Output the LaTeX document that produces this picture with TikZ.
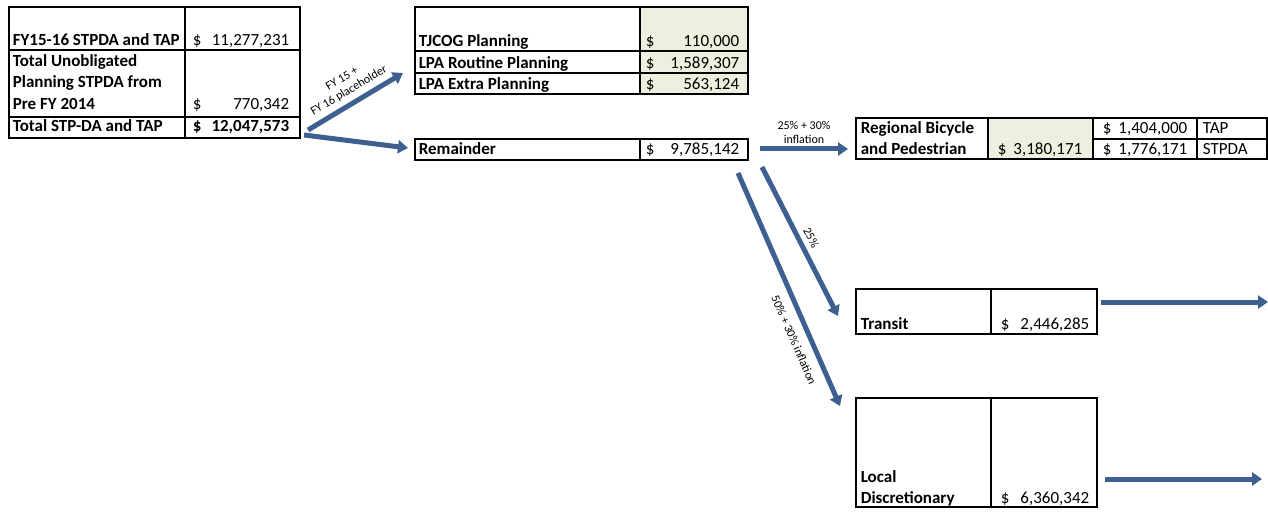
\documentclass[tikz,border=0pt]{standalone}
\usepackage{fontspec}
\setmainfont{Carlito}
\usetikzlibrary{arrows.meta}
\definecolor{flowblue}{RGB}{61,96,145}
\definecolor{cellgreen}{RGB}{235,241,222}

\begin{document}
\begin{tikzpicture}[x=1pt,y=-1pt,>={Triangle[width=13pt,length=10pt]},line width=1.6pt]
    \tikzstyle{lbl}=[anchor=base west, inner sep=0pt, font=\bfseries\fontsize{17}{21.5}\selectfont]
    \tikzstyle{dol}=[anchor=base west, inner sep=0pt, font=\fontsize{17}{21.5}\selectfont]
    \tikzstyle{amt}=[anchor=base east, inner sep=0pt, font=\fontsize{17}{21.5}\selectfont]
    \tikzstyle{flow}=[->, draw=flowblue, line width=5pt]
    \tikzstyle{note}=[font=\fontsize{12}{13.5}\selectfont, align=center, inner sep=5pt]

    \useasboundingbox (0,0) rectangle (1268,513);

    % shaded cells
    \fill[cellgreen] (640,7) rectangle (748,94);
    \fill[cellgreen] (988,118) rectangle (1093,159);

    % sources
    \draw (9,7) rectangle (300,138);
    \draw (185,7) -- (185,138);
    \draw (9,50) -- (300,50);
    \draw (9,117) -- (300,117);
    \node[lbl] (fy) at (12,46) {FY15-16 STPDA and TAP};
    \node[dol] (fyd) at (192,46) {\$};
    \node[amt] (fyv) at (290,46) {11,277,231};
    \node[lbl] (un1) at (12,67) {Total Unobligated};
    \node[lbl] (un2) at (12,88) {Planning STPDA from};
    \node[lbl] (un3) at (12,110) {Pre FY 2014};
    \node[dol] (und) at (192,110) {\$};
    \node[amt] (unv) at (290,110) {770,342};
    \node[lbl] (tot) at (12,132) {Total STP-DA and TAP};
    \node[lbl] (totd) at (192,132) {\$};
    \node[amt, font=\bfseries\fontsize{17}{21.5}\selectfont] (totv) at (290,132) {12,047,573};

    % planning
    \draw (415,7) rectangle (748,94);
    \draw (640,7) -- (640,94);
    \draw (415,51) -- (748,51);
    \draw (415,73) -- (748,73);
    \node[lbl] (tj) at (418,47) {TJCOG Planning};
    \node[dol] (tjd) at (645,47) {\$};
    \node[amt] (tjv) at (740,47) {110,000};
    \node[lbl] (lr) at (418,69) {LPA Routine Planning};
    \node[dol] (lrd) at (645,69) {\$};
    \node[amt] (lrv) at (740,69) {1,589,307};
    \node[lbl] (le) at (418,90) {LPA Extra Planning};
    \node[dol] (led) at (645,90) {\$};
    \node[amt] (lev) at (740,90) {563,124};

    % remainder
    \draw (415,139) rectangle (748,160);
    \draw (640,139) -- (640,160);
    \node[lbl] (rem) at (418,155) {Remainder};
    \node[dol] (remd) at (645,155) {\$};
    \node[amt] (remv) at (740,155) {9,785,142};

    % bike and ped
    \draw (856,118) rectangle (1267,159);
    \draw (988,118) -- (988,159);
    \draw (1093,118) -- (1093,159);
    \draw (1197,118) -- (1197,159);
    \draw (1093,139) -- (1267,139);
    \node[lbl] (bp1) at (860,134) {Regional Bicycle};
    \node[lbl] (bp2) at (860,155) {and Pedestrian};
    \node[dol] (bpd) at (997,155) {\$};
    \node[amt] (bpv) at (1083,155) {3,180,171};
    \node[dol] (tapd) at (1102,134) {\$};
    \node[amt] (tapv) at (1188,134) {1,404,000};
    \node[dol] (tap) at (1202,134) {TAP};
    \node[dol] (stpd) at (1102,155) {\$};
    \node[amt] (stpv) at (1188,155) {1,776,171};
    \node[dol] (stp) at (1202,155) {STPDA};

    % transit
    \draw (856,289) rectangle (1097,334);
    \draw (991,289) -- (991,334);
    \node[lbl] (tr) at (860,329) {Transit};
    \node[dol] (trd) at (1000,329) {\$};
    \node[amt] (trv) at (1090,329) {2,446,285};

    % local
    \draw (856,398) rectangle (1097,507);
    \draw (991,398) -- (991,507);
    \node[lbl] (lo1) at (860,482) {Local};
    \node[lbl] (lo2) at (860,503) {Discretionary};
    \node[dol] (lod) at (1000,503) {\$};
    \node[amt] (lov) at (1090,503) {6,360,342};

    % arrow ends
    \coordinate (s1) at (308,130);
    \coordinate (e1) at (403,73);
    \coordinate (s2) at (304,135);
    \coordinate (e2) at (408,148);
    \coordinate (s3) at (760,149);
    \coordinate (e3) at (848,149);
    \coordinate (s4) at (762,167);
    \coordinate (e4) at (838,316);
    \coordinate (s5) at (738,173);
    \coordinate (e5) at (840,406);
    \coordinate (s6) at (1101,302);
    \coordinate (e6) at (1268,302);
    \coordinate (s7) at (1105,479);
    \coordinate (e7) at (1262,479);

    \draw[flow] (s1) -- node[note, sloped, above] {FY 15 +\\FY 16 placeholder} (e1);
    \draw[flow] (s2) -- (e2);
    \draw[flow] (s3) -- node[note, above, inner sep=3pt] {25\% + 30\%\\inflation} (e3);
    \draw[flow] (s4) -- node[note, sloped, above, pos=0.51] {25\%} (e4);
    \draw[flow] (s5) -- node[note, sloped, below, pos=0.69, inner sep=9pt] {50\% + 30\% inflation} (e5);
    \draw[flow] (s6) -- (e6);
    \draw[flow] (s7) -- (e7);
\end{tikzpicture}
\end{document}
